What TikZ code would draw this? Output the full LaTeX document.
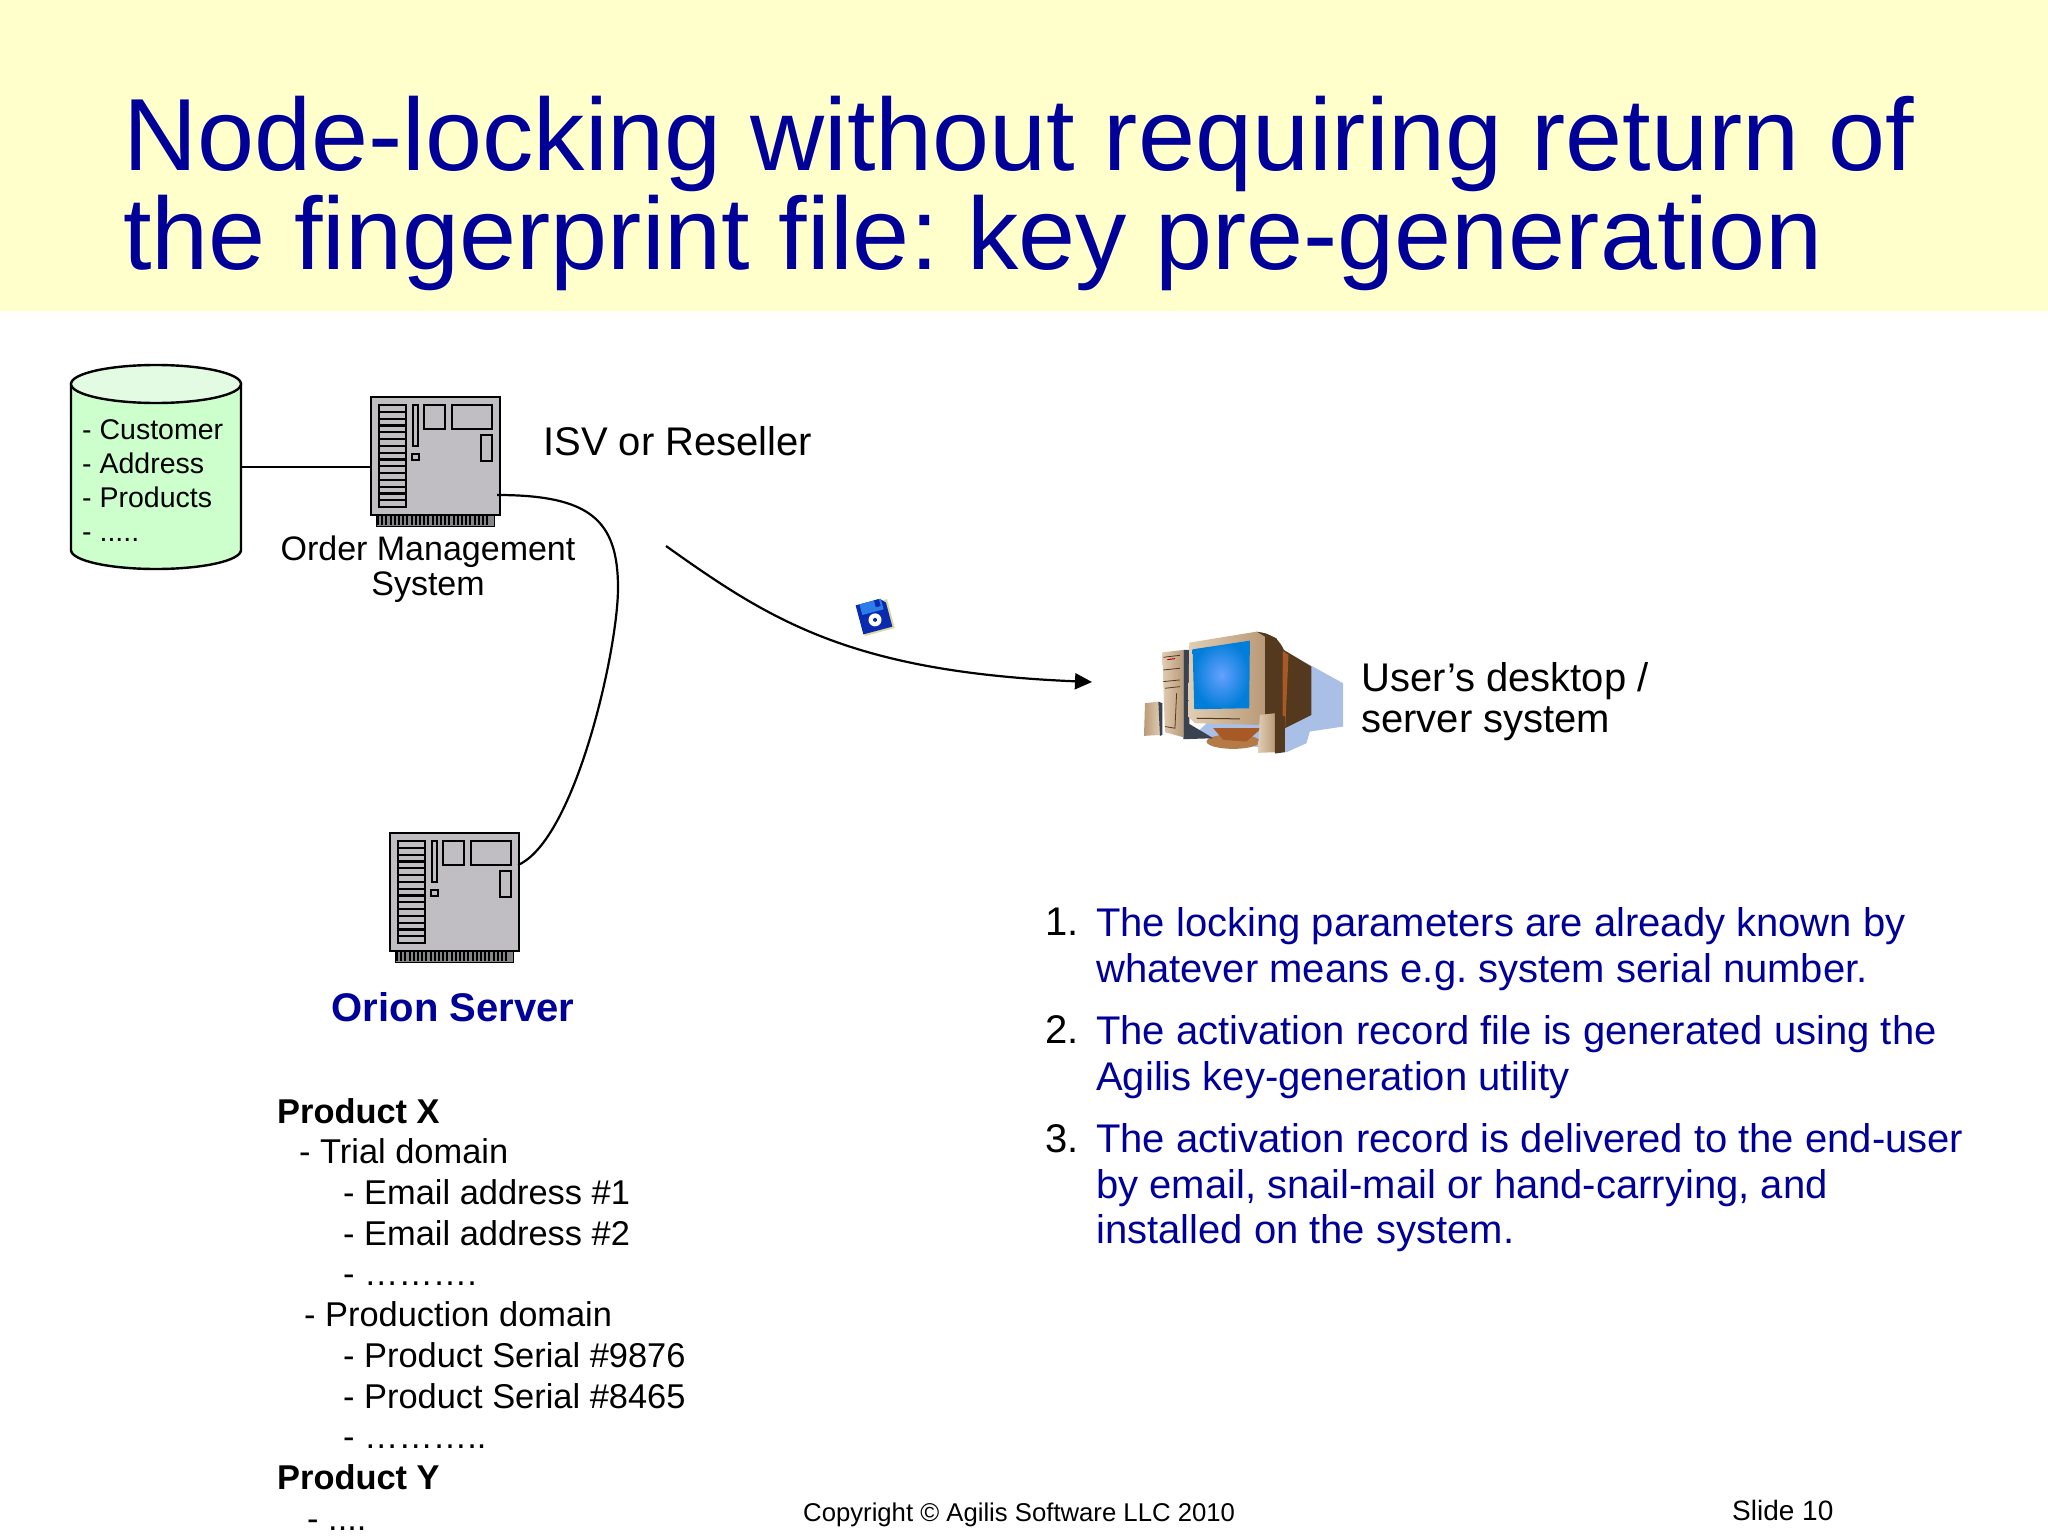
\documentclass[tikz,border=0pt]{standalone}
\usepackage{xcolor}
\usepackage{fontspec}
\setmainfont{Liberation Sans}
\usepackage{tikz}
\usetikzlibrary{arrows.meta,positioning,calc}
\definecolor{headyellow}{HTML}{FFFFCC}
\definecolor{titleblue}{HTML}{000099}
\definecolor{boardgray}{HTML}{C0BEC2}
\definecolor{dbbody}{HTML}{CCFFCC}
\definecolor{dbtop}{HTML}{E2FBE2}
\definecolor{shadowblue}{HTML}{A9BFE6}
\definecolor{casetan}{HTML}{B99A78}
\definecolor{casepale}{HTML}{E0CDB4}
\definecolor{casebrown}{HTML}{54391F}
\definecolor{casedark}{HTML}{3A4250}
\definecolor{caseorange}{HTML}{A85A26}
\definecolor{standbrown}{HTML}{B47A48}
\definecolor{diskblue}{HTML}{0A2AB0}
\definecolor{disklabel}{HTML}{2E7CE8}

\begin{document}
\frenchspacing
\begin{tikzpicture}[
  x=1pt, y=-1pt,
  label/.style={inner sep=0pt, align=left, anchor=west, font=\fontsize{40}{41}\selectfont},
  small/.style={inner sep=0pt, align=center, font=\fontsize{34}{35}\selectfont},
  item/.style={inner sep=0pt, align=left, anchor=west, text=titleblue, font=\fontsize{40}{45.5}\selectfont},
  foot/.style={inner sep=0pt, anchor=west, font=\fontsize{28}{30}\selectfont},
  link/.style={line width=2.2pt},
  arrow/.style={-{Triangle[length=17pt,width=16pt]}, line width=2.2pt},
  serverboard/.pic={
    \fill[boardgray!70!black, draw=black, line width=1pt] (6,118) rectangle (124,130);
    \foreach \t in {0,...,26} {\draw[line width=2pt] (8+4.2*\t,119) -- (8+4.2*\t,129);}
    \node[draw, line width=2.4pt, fill=boardgray, minimum width=129pt, minimum height=118pt, inner sep=0pt, anchor=north west] (-body) at (0,0) {};
    \draw[line width=2.2pt] (9,9) rectangle (36,111);
    \foreach \s in {1,...,14} {\draw[line width=2.2pt] (9,9+6.8*\s) -- (36,9+6.8*\s);}
    \draw[line width=2.2pt] (43,9) rectangle (48,50);
    \draw[line width=2.2pt] (42,58) rectangle (49,64);
    \draw[line width=2.2pt] (54,9) rectangle (75,33);
    \draw[line width=2.2pt] (82,9) rectangle (122,33);
    \draw[line width=2.2pt] (111,39) rectangle (122,65);
    \coordinate (-left) at (0,71);
    \coordinate (-portout) at (127,99);
    \coordinate (-portin) at (129,33);
  },
]
\useasboundingbox (0,0) rectangle (2048,1536);
\fill[headyellow] (0,0) rectangle (2048,311);
\node[inner sep=0pt, align=left, anchor=north west, text=titleblue, font=\fontsize{102.6}{99}\selectfont] (title) at (123,96) {Node-locking without requiring return of\\the fingerprint file: key pre-generation};

% order side
\node[minimum width=170pt, minimum height=204pt, inner sep=0pt] (db) at (156,467) {};
\filldraw[fill=dbbody, line width=2.4pt] (71,384) -- (71,550) .. controls (71,560.5) and (109,569) .. (156,569) .. controls (203,569) and (241,560.5) .. (241,550) -- (241,384) -- cycle;
\filldraw[fill=dbtop, line width=2.4pt] (156,384) ellipse [x radius=85, y radius=19];
\node[inner sep=0pt, align=left, anchor=west, font=\fontsize{28.5}{34}\selectfont] (dbtext) at (82,481) {- Customer\\- Address\\- Products\\- .....};
\pic (oms) at (370,396) {serverboard};
\node[label] (isv) at (543,441) {ISV or Reseller};
\node[small] (omstext) at (428,569) {Order Management\\System};
\draw[link] (db.east) -- (oms-left);

% orion side
\pic (orion) at (389,832) {serverboard};
\coordinate (bend) at (618,588);
\draw[link] (oms-portout) .. controls (590,495) and (618,520) .. (bend) .. controls (618,650) and (575,840) .. (orion-portin);
\node[inner sep=0pt, text=titleblue, font=\bfseries\fontsize{40}{41}\selectfont] (oriontext) at (453,1007) {Orion Server};
\node[inner sep=0pt, align=left, anchor=north west, font=\fontsize{34.4}{40.7}\selectfont] (products) at (277,1098) {%
  \textbf{Product X}\\
  \hspace*{22pt}- Trial domain\\
  \hspace*{66pt}- Email address \#1\\
  \hspace*{66pt}- Email address \#2\\
  \hspace*{66pt}- ……….\\
  \hspace*{27pt}- Production domain\\
  \hspace*{66pt}- Product Serial \#9876\\
  \hspace*{66pt}- Product Serial \#8465\\
  \hspace*{66pt}- ………..\\
  \textbf{Product Y}\\
  \hspace*{30pt}- ....};

% delivery
\coordinate (handoff) at (666,546);
\coordinate (arrival) at (1092,682);
\draw[arrow] (handoff) .. controls (770,620) and (850,672) .. (arrival);
\begin{scope}[shift={(874,616)}, rotate=15]
  \fill[olive!30] (-14,-13) rectangle (17,17);
  \fill[diskblue] (-15,-15) -- (10,-15) -- (15,-10) -- (15,15) -- (-15,15) -- cycle;
  \fill[disklabel] (-11,-15) rectangle (11,-4);
  \fill[diskblue] (4,-15) rectangle (9,-8);
  \fill[white] (0,4) circle (6.5);
  \fill[diskblue] (0,4) circle (2);
\end{scope}

% desktop, points read off a crop
\begin{scope}[shift={(1130,620)}, x=0.333pt, y=-0.333pt]
  \fill[shadowblue] (455,88) -- (640,190) -- (640,320) -- (540,335) -- (530,370) -- (470,397) -- (250,358) -- (190,348) -- (400,150) -- cycle;
  \fill[casebrown] (380,35) .. controls (425,40) and (450,60) .. (462,90) -- (545,140) -- (545,285) -- (465,325) -- (400,320) -- cycle;
  \fill[caseorange] (458,92) -- (476,105) -- (466,327) -- (420,322) -- (455,290) -- cycle;
  \fill[casebrown] (405,40) -- (440,55) -- (458,92) -- (458,290) -- (405,310) -- cycle;
  \fill[standbrown] (310,365) ellipse [x radius=80, y radius=22];
  \fill[caseorange] (250,325) -- (395,325) -- (350,365) -- (280,360) -- cycle;
  \fill[casedark] (160,90) -- (182,90) -- (178,312) -- (250,355) -- (160,358) -- cycle;
  \shade[left color=casepale, right color=casetan] (97,97) -- (160,90) -- (160,352) -- (105,337) -- cycle;
  \draw[casebrown, line width=0.8pt] (100,112) -- (150,106) (100,150) -- (150,145) (100,185) -- (150,180) (105,205) -- (150,200) (140,220) -- (135,325) -- (105,320);
  \draw[red!70!black, line width=1pt] (112,119) -- (135,116);
  \shade[left color=casepale, right color=casetan] (178,68) -- (380,35) -- (405,50) -- (405,290) -- (385,315) -- (195,310) -- (175,290) -- cycle;
  \shade[inner color=blue!62!cyan!60, outer color=blue!42!cyan!85!black] (188,88) -- (360,62) -- (358,265) -- (193,268) -- cycle;
  \draw[casebrown, line width=1pt] (200,295) -- (330,297);
  \shade[left color=casetan, right color=casepale] (45,250) -- (85,245) -- (92,345) -- (42,348) -- cycle;
  \fill[casedark] (85,245) -- (97,250) -- (97,345) -- (90,348) -- cycle;
  \shade[left color=casepale, right color=casetan] (390,285) -- (435,280) -- (435,397) -- (385,399) -- cycle;
  \fill[casebrown] (435,280) -- (465,290) -- (465,397) -- (435,401) -- cycle;
\end{scope}
\node[label] (usertext) at (1361,702) {User’s desktop /\\server system};

% numbered steps
\node[item, text=black] (num1) at (1045,922) {1.};
\node[item] (step1) at (1096,949) {The locking parameters are already known by\\whatever means e.g. system serial number.};
\node[item, text=black] (num2) at (1045,1030) {2.};
\node[item] (step2) at (1096,1057) {The activation record file is generated using the\\Agilis key-generation utility};
\node[item, text=black] (num3) at (1045,1139) {3.};
\node[item] (step3) at (1096,1188) {The activation record is delivered to the end-user\\by email, snail-mail or hand-carrying, and\\installed on the system.};

% footer
\node[foot, font=\fontsize{25.7}{30}\selectfont] (copyright) at (803,1515) {Copyright © Agilis Software LLC 2010};
\node[foot] (slidenum) at (1732,1510) {Slide 10};
\end{tikzpicture}
\end{document}
